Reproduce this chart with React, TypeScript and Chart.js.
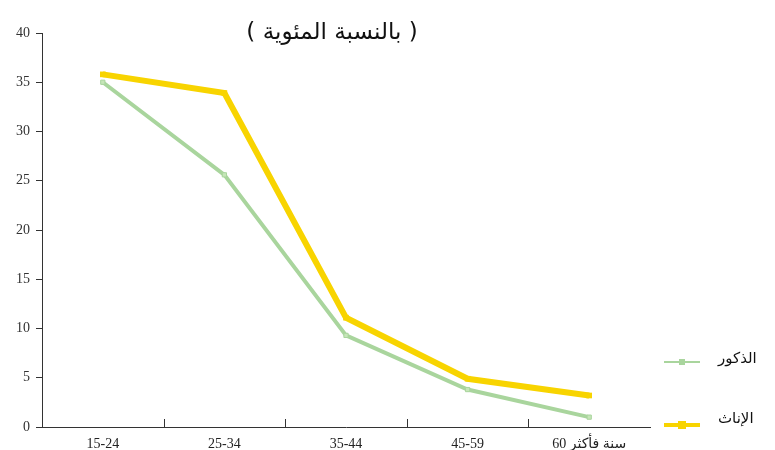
import React, { useEffect, useRef } from "react";
import { Chart, registerables } from "chart.js";

Chart.register(...registerables);

const categories = ["15-24", "25-34", "35-44", "45-59", "\u200E60 سنة فأكثر"];
const maleValues = [35, 25.6, 9.3, 3.8, 1.0];
const femaleValues = [35.8, 33.9, 11.1, 4.9, 3.2];
const seriesLabels = ["الذكور", "الإناث"];
const titleText = "( بالنسبة المئوية )";
const yTicks = [0, 5, 10, 15, 20, 25, 30, 35, 40];

const MALE_COLOR = "#a9d59d";
const FEMALE_COLOR = "#f8d400";

const overlayPlugin = {
  id: "overlay",
  afterDraw(chart: any) {
    const ctx = chart.ctx;
    const area = chart.chartArea;
    const xs = chart.scales.x;
    ctx.save();
    // upward x-axis ticks between categories
    ctx.strokeStyle = "#333";
    ctx.lineWidth = 1;
    for (let i = 0; i < categories.length - 1; i++) {
      const x = Math.round((xs.getPixelForValue(i) + xs.getPixelForValue(i + 1)) / 2) + 0.5;
      ctx.beginPath();
      ctx.moveTo(x, area.bottom);
      ctx.lineTo(x, area.bottom - 8);
      ctx.stroke();
    }
    // title
    ctx.fillStyle = "#111";
    ctx.font = "23px 'DejaVu Sans'";
    ctx.textAlign = "center";
    ctx.textBaseline = "middle";
    ctx.fillText(titleText, area.left + 290, 33);
    // legend
    const rows = [
      { y: 362, ty: 359 },
      { y: 425, ty: 419 },
    ];
    chart.data.datasets.forEach((ds: any, i: number) => {
      const r = rows[i];
      ctx.strokeStyle = ds.borderColor;
      ctx.lineWidth = i === 0 ? 2 : 4;
      ctx.beginPath();
      ctx.moveTo(664, r.y);
      ctx.lineTo(700, r.y);
      ctx.stroke();
      ctx.fillStyle = ds.borderColor;
      const s = i === 0 ? 6 : 8;
      ctx.fillRect(682 - s / 2, r.y - s / 2, s, s);
      ctx.fillStyle = "#111";
      ctx.font = "15px 'DejaVu Sans'";
      ctx.textAlign = "left";
      ctx.textBaseline = "middle";
      ctx.fillText(ds.label, 718, r.ty);
    });
    ctx.restore();
  },
};

export default function App() {
  const ref = useRef<HTMLCanvasElement | null>(null);
  useEffect(() => {
    if (!ref.current) return;
    const chart = new Chart(ref.current, {
      type: "line",
      data: {
        labels: categories,
        datasets: [
          {
            label: seriesLabels[0],
            data: maleValues,
            borderColor: MALE_COLOR,
            backgroundColor: "#c6e6b8",
            borderWidth: 4,
            pointStyle: "rect",
            pointRadius: 3,
            pointBorderWidth: 1,
            tension: 0,
          },
          {
            label: seriesLabels[1],
            data: femaleValues,
            borderColor: FEMALE_COLOR,
            backgroundColor: FEMALE_COLOR,
            borderWidth: 6,
            pointStyle: "rect",
            pointRadius: 4,
            pointBorderWidth: 0,
            tension: 0,
          },
        ],
      },
      options: {
        animation: false,
        responsive: true,
        maintainAspectRatio: false,
        layout: { padding: { left: 0, top: 33, right: 125, bottom: 0 } },
        plugins: {
          legend: { display: false },
          tooltip: { enabled: false },
          title: { display: false },
        },
        scales: {
          x: {
            type: "category",
            offset: true,
            grid: { display: false },
            border: { display: true, color: "#333", width: 1 },
            ticks: {
              color: "#222",
              font: { family: "'Liberation Serif', 'DejaVu Sans'", size: 14 },
              padding: 1,
              maxRotation: 0,
              autoSkip: false,
            },
            afterFit(scale: any) {
              scale.height = 23;
            },
          },
          y: {
            min: 0,
            max: 40,
            afterBuildTicks(scale: any) {
              scale.ticks = yTicks.map((v) => ({ value: v }));
            },
            grid: {
              drawOnChartArea: false,
              drawTicks: true,
              tickLength: 6,
              color: "#333",
            },
            border: { display: true, color: "#333", width: 1 },
            ticks: {
              color: "#333",
              font: { family: "'Liberation Serif'", size: 14 },
              padding: 6,
            },
            afterFit(scale: any) {
              scale.width = 42;
            },
          },
        },
      },
      plugins: [overlayPlugin],
    });
    return () => chart.destroy();
  }, []);
  return (
    <div style={{ position: "fixed", left: 0, top: 0, width: 775, height: 450, background: "#fff" }}>
      <canvas ref={ref} />
    </div>
  );
}
